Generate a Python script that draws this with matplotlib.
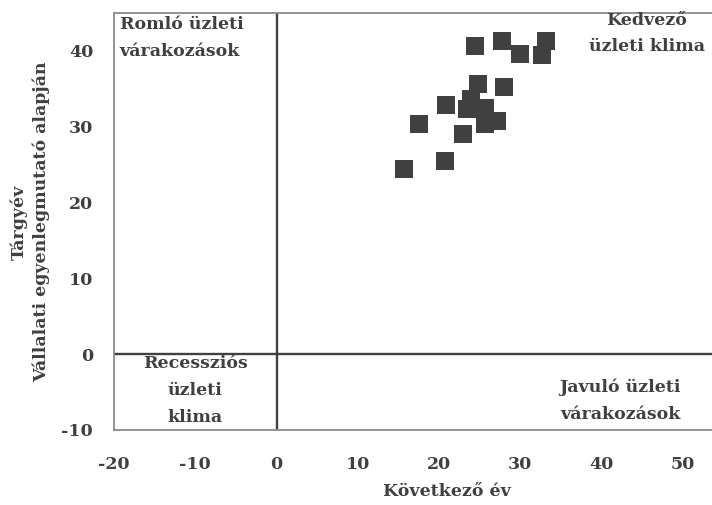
import matplotlib
matplotlib.use("Agg")
import matplotlib.pyplot as plt

# Data (Következő év, Tárgyév)
next_year = [24.4, 27.8, 30.0, 33.2, 32.7, 24.8, 28.0, 20.9, 23.9, 23.4,
             25.6, 27.1, 25.6, 22.9, 17.5, 20.7, 15.7]
this_year = [40.7, 41.3, 39.6, 41.3, 39.4, 35.7, 35.2, 32.8, 33.6, 32.3,
             32.5, 30.7, 30.4, 29.1, 30.4, 25.5, 24.4]
x_ticks = [-20, -10, 0, 10, 20, 30, 40, 50]
y_ticks = [-10, 0, 10, 20, 30, 40]

TXT = "#404040"
FONT = "DejaVu Serif"
FS = 12.5
plt.rcParams["font.family"] = [FONT]
plt.rcParams["font.weight"] = "bold"

fig = plt.figure(figsize=(7.12, 5.05), dpi=100)
W, H = 712, 505
left, right, top, bottom = 114, 764, 13, 430
ax = fig.add_axes([left / W, 1 - bottom / H, (right - left) / W, (bottom - top) / H])
ax.set_xlim(-20, 60)
ax.set_ylim(-10, 45)

ax.scatter(next_year, this_year, marker="s", s=175, color="#404040", linewidths=0, zorder=3)

ax.axhline(0, color="#404040", lw=1.7, zorder=2)
ax.axvline(0, color="#404040", lw=1.7, zorder=2)

for s in ax.spines.values():
    s.set_color("#8a8a8a")
    s.set_linewidth(1.3)

ax.set_xticks(x_ticks)
ax.set_yticks(y_ticks)
ax.set_xticklabels([str(v) for v in x_ticks])
ax.set_yticklabels([str(v) for v in y_ticks])
ax.tick_params(axis="x", length=0, pad=19, labelsize=FS, labelcolor=TXT)
ax.tick_params(axis="y", length=0, pad=15, labelsize=FS, labelcolor=TXT)
for lab in ax.get_xticklabels() + ax.get_yticklabels():
    lab.set_fontweight("bold")

kw = dict(fontsize=FS, color=TXT, fontweight="bold", linespacing=1.75)
ax.text(-19.3, 41.7, "Romló üzleti\nvárakozások", ha="left", va="center", **kw)
ax.text(45.6, 42.3, "Kedvező\nüzleti klima", ha="center", va="center", **kw)
ax.text(-10, -4.8, "Recessziós\nüzleti\nklima", ha="center", va="center", **kw, zorder=4)
ax.text(42.3, -6.1, "Javuló üzleti\nvárakozások", ha="center", va="center", **kw)

fig.text(447 / W, 1 - 492 / H, "Következő év", ha="center", va="center",
         fontsize=FS, color=TXT, fontweight="bold")
fig.text(30 / W, 1 - 222 / H, "Tárgyév\nVállalati egyenlegmutató alapján", ha="center",
         va="center", rotation=90, fontsize=FS, color=TXT, fontweight="bold",
         linespacing=1.4)

fig.savefig("out.png", dpi=100)
